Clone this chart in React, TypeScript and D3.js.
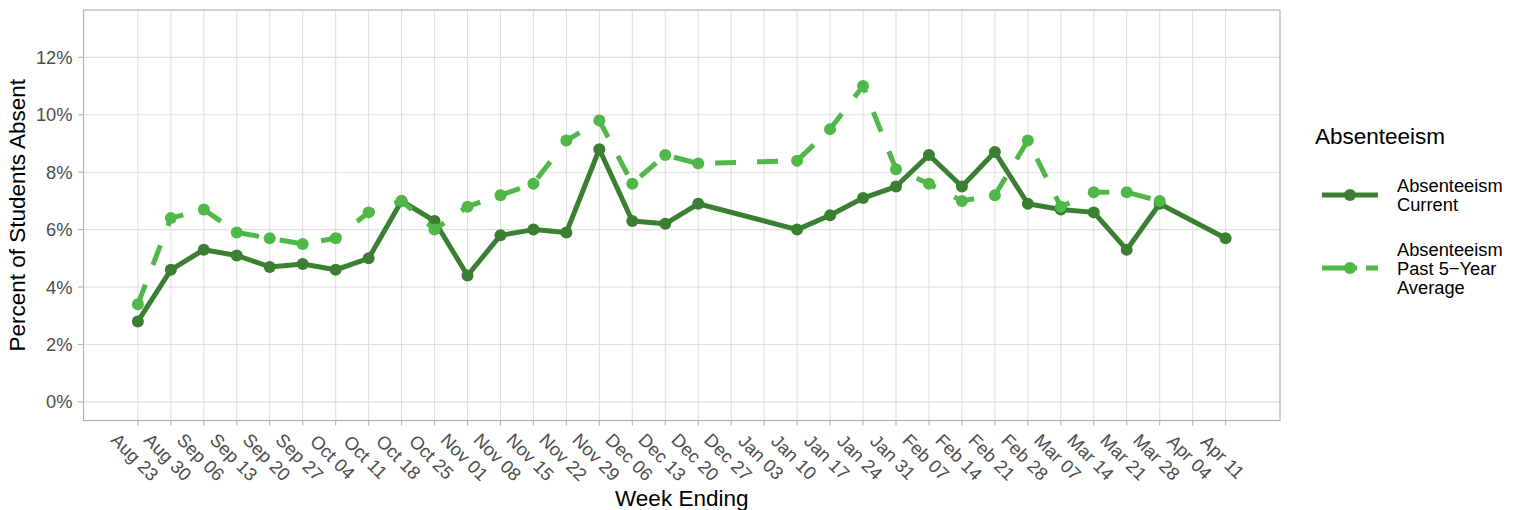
import * as d3 from "d3";
import { useEffect, useRef } from "react";

// Week-ending dates (school year), one per weekly tick.
const weeks = [
  "2020-08-23", "2020-08-30", "2020-09-06", "2020-09-13", "2020-09-20",
  "2020-09-27", "2020-10-04", "2020-10-11", "2020-10-18", "2020-10-25",
  "2020-11-01", "2020-11-08", "2020-11-15", "2020-11-22", "2020-11-29",
  "2020-12-06", "2020-12-13", "2020-12-20", "2020-12-27", "2021-01-03",
  "2021-01-10", "2021-01-17", "2021-01-24", "2021-01-31", "2021-02-07",
  "2021-02-14", "2021-02-21", "2021-02-28", "2021-03-07", "2021-03-14",
  "2021-03-21", "2021-03-28", "2021-04-04", "2021-04-11",
];

// Percent absent; null = no reading that week.
const current = [
  2.8, 4.6, 5.3, 5.1, 4.7, 4.8, 4.6, 5.0, 7.0, 6.3,
  4.4, 5.8, 6.0, 5.9, 8.8, 6.3, 6.2, 6.9, null, null,
  6.0, 6.5, 7.1, 7.5, 8.6, 7.5, 8.7, 6.9, 6.7, 6.6,
  5.3, 6.9, null, 5.7,
];
const pastAverage = [
  3.4, 6.4, 6.7, 5.9, 5.7, 5.5, 5.7, 6.6, 7.0, 6.0,
  6.8, 7.2, 7.6, 9.1, 9.8, 7.6, 8.6, 8.3, null, null,
  8.4, 9.5, 11.0, 8.1, 7.6, 7.0, 7.2, 9.1, 6.8, 7.3,
  7.3, 7.0, null, null,
];
const yTicks = [0, 2, 4, 6, 8, 10, 12];

const W = 1527;
const H = 510;
const FONT = "'Liberation Sans', Arial, Helvetica, sans-serif";
const DARK = "#3B7F32";
const LIGHT = "#50B848";

const panel = { left: 83.5, right: 1280, top: 10, bottom: 420.5 };

const App = () => {
  const svgRef = useRef<SVGSVGElement>(null);

  useEffect(() => {
    const svgEl = svgRef.current;
    if (!svgEl) return;
    d3.select(svgEl).selectAll("*").remove();
    const svg = d3.select(svgEl);

    const parse = d3.utcParse("%Y-%m-%d");
    const dates = weeks.map((w) => parse(w) as Date);
    const t0 = +dates[0];
    const t1 = +dates[dates.length - 1];
    const pad = (t1 - t0) * 0.05;
    const x = d3
      .scaleUtc()
      .domain([new Date(t0 - pad), new Date(t1 + pad)])
      .range([panel.left, panel.right]);
    // limits 0–13 with ggplot's 5% expansion
    const y = d3
      .scaleLinear()
      .domain([-0.65, 13.65])
      .range([panel.bottom, panel.top]);

    // grid
    const grid = svg.append("g").attr("stroke", "#E0E0E0").attr("stroke-width", 1.1);
    yTicks.forEach((v) => {
      grid.append("line")
        .attr("x1", panel.left).attr("x2", panel.right)
        .attr("y1", y(v)).attr("y2", y(v));
    });
    dates.forEach((d) => {
      grid.append("line")
        .attr("x1", x(d)).attr("x2", x(d))
        .attr("y1", panel.top).attr("y2", panel.bottom);
    });

    // series
    const series = [
      { values: current, color: DARK, dash: null as string | null },
      { values: pastAverage, color: LIGHT, dash: "21 21" },
    ];
    const line = d3
      .line<{ d: Date; v: number }>()
      .x((p) => x(p.d))
      .y((p) => y(p.v));

    series.forEach((s) => {
      const pts = dates
        .map((d, i) => ({ d, v: s.values[i] as number | null }))
        .filter((p) => p.v != null) as { d: Date; v: number }[];
      const path = svg.append("path")
        .attr("d", line(pts) ?? "")
        .attr("fill", "none")
        .attr("stroke", s.color)
        .attr("stroke-width", 5)
        .attr("stroke-linejoin", "round");
      if (s.dash) path.attr("stroke-dasharray", s.dash);
      svg.append("g")
        .selectAll("circle")
        .data(pts)
        .join("circle")
        .attr("cx", (p) => x(p.d))
        .attr("cy", (p) => y(p.v))
        .attr("r", 6)
        .attr("fill", s.color);
    });

    // panel border
    svg.append("rect")
      .attr("x", panel.left).attr("y", panel.top)
      .attr("width", panel.right - panel.left)
      .attr("height", panel.bottom - panel.top)
      .attr("fill", "none")
      .attr("stroke", "#B3B3B3")
      .attr("stroke-width", 1.2);

    // y axis
    const yAxis = svg.append("g");
    yTicks.forEach((v) => {
      yAxis.append("line")
        .attr("x1", panel.left - 5.5).attr("x2", panel.left)
        .attr("y1", y(v)).attr("y2", y(v))
        .attr("stroke", "#B3B3B3").attr("stroke-width", 1.1);
      yAxis.append("text")
        .attr("x", 72.5).attr("y", y(v))
        .attr("text-anchor", "end")
        .attr("dominant-baseline", "central")
        .attr("font-size", 18.3)
        .attr("fill", "#4D4D4D")
        .text(`${v}%`);
    });

    // x axis
    const fmt = d3.utcFormat("%b %d");
    const xAxis = svg.append("g");
    dates.forEach((d) => {
      xAxis.append("line")
        .attr("x1", x(d)).attr("x2", x(d))
        .attr("y1", panel.bottom).attr("y2", panel.bottom + 5)
        .attr("stroke", "#B3B3B3").attr("stroke-width", 1.1);
      xAxis.append("text")
        .attr("transform", `translate(${x(d) - 3},${457}) rotate(45)`)
        .attr("text-anchor", "middle")
        .attr("dominant-baseline", "central")
        .attr("font-size", 18.3)
        .attr("fill", "#4D4D4D")
        .text(fmt(d));
    });

    // axis titles
    svg.append("text")
      .attr("x", (panel.left + panel.right) / 2).attr("y", 506)
      .attr("text-anchor", "middle")
      .attr("font-size", 22.5)
      .text("Week Ending");
    svg.append("text")
      .attr("transform", `translate(25,${(panel.top + panel.bottom) / 2}) rotate(-90)`)
      .attr("text-anchor", "middle")
      .attr("font-size", 22.5)
      .text("Percent of Students Absent");

    // legend
    const lg = svg.append("g");
    lg.append("text").attr("x", 1315).attr("y", 144).attr("font-size", 22.5).text("Absenteeism");
    const items = [
      { color: DARK, dash: null as string | null, ky: 195, labels: ["Absenteeism", "Current"], ly: 192 },
      { color: LIGHT, dash: "35 9 12", ky: 268, labels: ["Absenteeism", "Past 5\u2212Year", "Average"], ly: 256 },
    ];
    items.forEach((it) => {
      const l = lg.append("line")
        .attr("x1", 1322).attr("x2", 1378)
        .attr("y1", it.ky).attr("y2", it.ky)
        .attr("stroke", it.color).attr("stroke-width", 5);
      if (it.dash) l.attr("stroke-dasharray", it.dash);
      lg.append("circle").attr("cx", 1350).attr("cy", it.ky).attr("r", 6).attr("fill", it.color);
      it.labels.forEach((t, i) => {
        lg.append("text")
          .attr("x", 1397).attr("y", it.ly + i * 19)
          .attr("font-size", 18.3)
          .text(t);
      });
    });
  }, []);

  return (
    <svg
      ref={svgRef}
      width={W}
      height={H}
      style={{ position: "absolute", left: 0, top: 0, background: "#fff", fontFamily: FONT }}
    />
  );
};

export default App;
